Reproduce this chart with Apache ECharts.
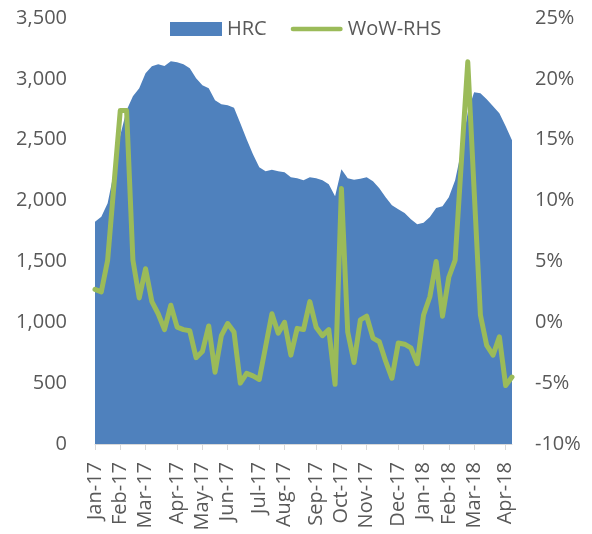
<!DOCTYPE html>
<html>
<head>
<meta charset="utf-8">
<script src="https://cdn.jsdelivr.net/npm/echarts@6/dist/echarts.min.js"></script>
<style>
html,body{margin:0;padding:0;background:#fff;}
#chart{width:592px;height:534px;}
</style>
</head>
<body>
<div id="chart"></div>
<script>
// Weekly observation dates
var weeks = [
 '2017-01-02','2017-01-09','2017-01-16','2017-01-23','2017-01-30',
 '2017-02-06','2017-02-13','2017-02-20','2017-02-27',
 '2017-03-06','2017-03-13','2017-03-20','2017-03-27',
 '2017-04-03','2017-04-10','2017-04-17','2017-04-24',
 '2017-05-01','2017-05-08','2017-05-15','2017-05-22','2017-05-29',
 '2017-06-05','2017-06-12','2017-06-19','2017-06-26',
 '2017-07-03','2017-07-10','2017-07-17','2017-07-24','2017-07-31',
 '2017-08-07','2017-08-14','2017-08-21','2017-08-28',
 '2017-09-04','2017-09-11','2017-09-18','2017-09-25',
 '2017-10-02','2017-10-09','2017-10-16','2017-10-23','2017-10-30',
 '2017-11-06','2017-11-13','2017-11-20','2017-11-27',
 '2017-12-04','2017-12-11','2017-12-18','2017-12-25',
 '2018-01-01','2018-01-08','2018-01-15','2018-01-22','2018-01-29',
 '2018-02-05','2018-02-12','2018-02-19','2018-02-26',
 '2018-03-05','2018-03-12','2018-03-19','2018-03-26',
 '2018-04-02','2018-04-09'
];
// HRC price (left axis)
var hrc = [1825,1868,1979,2233,2537,2742,2857,2923,3046,3103,
 3120,3106,3144,3136,3120,3087,3005,2947,2923,2824,
 2791,2783,2763,2635,2504,2381,2274,2241,2254,2241,
 2233,2192,2184,2167,2192,2184,2167,2135,2036,2258,
 2184,2172,2180,2192,2159,2102,2028,1962,1929,1897,
 1847,1806,1818,1864,1938,1954,2028,2167,2414,2726,
 2890,2882,2832,2775,2717,2611,2496];
// Week-on-week change, % (right axis)
var wow = [2.7,2.5,5.1,11.3,17.4,17.4,5.1,2.0,4.4,1.7,
 0.7,-0.6,1.4,-0.4,-0.6,-0.7,-2.9,-2.4,-0.3,-4.1,
 -1.1,-0.1,-0.8,-5.0,-4.2,-4.4,-4.7,-2.0,0.7,-0.9,
 0.0,-2.7,-0.5,-0.6,1.7,-0.4,-1.1,-0.6,-5.1,11.0,
 -0.8,-3.3,0.2,0.5,-1.3,-1.6,-3.2,-4.6,-1.7,-1.8,
 -2.1,-3.4,0.6,2.1,5.0,0.5,3.7,5.1,13.3,21.4,
 10.9,0.6,-1.9,-2.7,-1.2,-5.2,-4.5];
// Month tick labels
var monthStarts = ['2017-01-01','2017-02-01','2017-03-01','2017-04-01','2017-05-01','2017-06-01',
 '2017-07-01','2017-08-01','2017-09-01','2017-10-01','2017-11-01','2017-12-01',
 '2018-01-01','2018-02-01','2018-03-01','2018-04-01'];
var monthLabels = ['Jan-17','Feb-17','Mar-17','Apr-17','May-17','Jun-17','Jul-17','Aug-17',
 'Sep-17','Oct-17','Nov-17','Dec-17','Jan-18','Feb-18','Mar-18','Apr-18'];
var leftTicks = {min:0, max:3500, step:500};
var rightTicks = {min:-10, max:25, step:5};

// map each month start to nearest weekly category
var labelAt = {};
monthStarts.forEach(function(m, k){
  var t = Date.parse(m), best = 0, bd = Infinity;
  weeks.forEach(function(w, i){
    var d = Math.abs(Date.parse(w) - t);
    if (d < bd) { bd = d; best = i; }
  });
  labelAt[best] = monthLabels[k];
});
function showIdx(i){ return labelAt.hasOwnProperty(i); }

var FONT = '"Open Sans", sans-serif';
var TXT = '#595959';
var FS = 20;
var chart = echarts.init(document.getElementById('chart'), null, {renderer:'canvas'});
chart.setOption({
  animation: false,
  backgroundColor: '#ffffff',
  textStyle: {fontFamily: FONT},
  legend: {
    top: 19, left: 170, padding: 0,
    itemWidth: 52, itemHeight: 14, itemGap: 24,
    symbolKeepAspect: true,
    textStyle: {fontSize: FS, color: TXT, fontFamily: FONT},
    data: [
      {name:'HRC', icon:'rect'},
      {name:'WoW-RHS', icon:'path://M2.5,0 L54.5,0 A2.5,2.5 0 0 1 54.5,5 L2.5,5 A2.5,2.5 0 0 1 2.5,0 Z',
        itemStyle: {color:'#9bbb59', borderWidth: 0}, lineStyle: {width: 0}}
    ]
  },
  grid: {left: 95, right: 80, top: 18, bottom: 90, containLabel: false},
  xAxis: {
    type: 'category',
    data: weeks,
    boundaryGap: false,
    axisLine: {show: true, lineStyle: {color: '#d9d9d9', width: 1}},
    axisTick: {show: true, length: 6, interval: function(i){return showIdx(i);}, lineStyle:{color:'#d9d9d9'}},
    axisLabel: {
      rotate: 90, margin: 18, fontSize: FS, color: TXT, fontFamily: FONT,
      interval: function(i){ return showIdx(i); },
      formatter: function(v, i){ return labelAt[i] || ''; }
    },
    splitLine: {show: false}
  },
  yAxis: [
    {
      type: 'value', min: leftTicks.min, max: leftTicks.max, interval: leftTicks.step,
      axisLine: {show: false}, axisTick: {show: false}, splitLine: {show: false},
      axisLabel: {margin: 28, fontSize: FS, color: TXT, fontFamily: FONT,
        formatter: function(v){ return v.toLocaleString('en-US'); }}
    },
    {
      type: 'value', min: rightTicks.min, max: rightTicks.max, interval: rightTicks.step,
      axisLine: {show: false}, axisTick: {show: false}, splitLine: {show: false},
      axisLabel: {margin: 23, align: 'left', fontSize: FS, color: TXT, fontFamily: FONT,
        formatter: function(v){ return v + '%'; }}
    }
  ],
  series: [
    {
      name: 'HRC', type: 'line', data: hrc, yAxisIndex: 0,
      symbol: 'none', color: '#4f81bd',
      lineStyle: {width: 0, color: '#4f81bd'},
      areaStyle: {color: '#4f81bd', opacity: 1},
      z: 1
    },
    {
      name: 'WoW-RHS', type: 'line', data: wow, yAxisIndex: 1,
      symbol: 'none', color: '#9bbb59',
      lineStyle: {width: 5, color: '#9bbb59', cap: 'round', join: 'round'},
      z: 3
    }
  ]
});
</script>
</body>
</html>
